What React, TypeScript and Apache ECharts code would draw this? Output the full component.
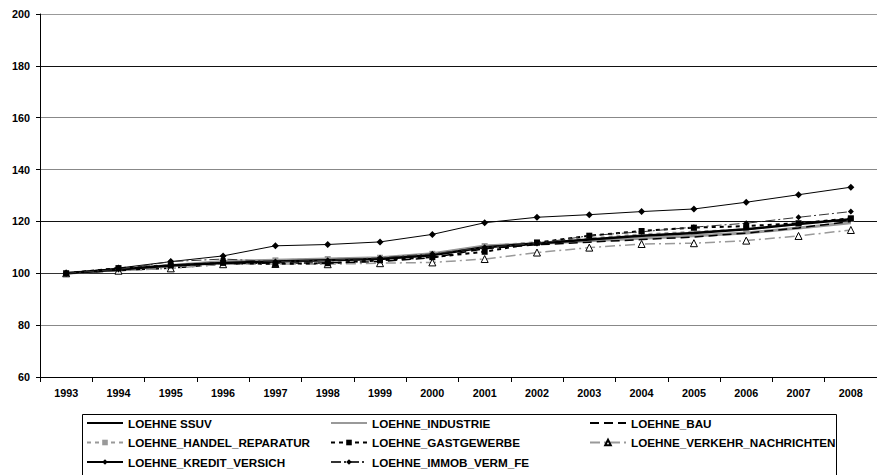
import React, { useEffect, useRef } from "react";
import * as echarts from "echarts";

const years = ["1993","1994","1995","1996","1997","1998","1999","2000","2001","2002","2003","2004","2005","2006","2007","2008"];

const ssuv = [100, 101.5, 103, 104, 104.5, 105, 105.5, 107, 110, 111.5, 113, 114.5, 115.5, 117, 119, 120.8];
const industrie = [100, 101.5, 103, 104.5, 105, 105.5, 106, 107.5, 110.5, 111.5, 112.5, 113.5, 114.5, 115.5, 117.5, 119.5];
const bau = [100, 101, 102, 103.5, 104, 104, 104.5, 106, 109.5, 111, 112, 113, 114, 115.5, 117.5, 120];
const handel = [100, 101.5, 102.5, 104.5, 105, 105.5, 106, 107.5, 110.5, 112, 113.5, 115, 116, 117, 119, 121];
const gastgewerbe = [100, 102, 103, 104, 103.6, 103.9, 105, 106.2, 108.3, 111.8, 114.5, 116.3, 117.6, 118.2, 119.3, 121.2];
const verkehr = [100, 101, 101.9, 103.5, 103.6, 103.5, 103.9, 104.2, 105.5, 108, 109.9, 111.3, 111.6, 112.6, 114.4, 116.7];
const kredit = [100, 102, 104.5, 106.7, 110.6, 111.1, 112.1, 115.0, 119.5, 121.6, 122.6, 123.8, 124.8, 127.4, 130.3, 133.2];
const immob = [100, 101.5, 104.5, 105.5, 104.5, 105, 106, 107.5, 110, 111.5, 114.5, 116, 117.8, 119.3, 121.6, 123.8];

const yMin = 60;
const yMax = 200;
const yInterval = 20;

const FONT = "'Liberation Sans', Arial, sans-serif";

export default function App() {
  const ref = useRef<HTMLDivElement>(null);
  useEffect(() => {
    if (!ref.current) return;
    const chart = echarts.init(ref.current, undefined, { renderer: "svg" });
    const legendText = { fontFamily: FONT, fontWeight: "bold" as const, fontSize: 11.7, color: "#000" };
    const legendCommon = {
      orient: "vertical" as const,
      top: 417,
      itemWidth: 36,
      itemHeight: 7,
      itemGap: 7.5,
      padding: 0,
      selectedMode: false,
      textStyle: legendText,
    };
    const hide = { opacity: 0 };
    chart.setOption({
      animation: false,
      backgroundColor: "#fff",
      grid: { left: 40, right: -13, top: 14, bottom: 98, containLabel: false },
      xAxis: {
        type: "category",
        data: years,
        boundaryGap: true,
        axisLine: { lineStyle: { color: "#000", width: 1 } },
        axisTick: { show: true, length: 5, lineStyle: { color: "#000" } },
        axisLabel: { margin: 10, fontFamily: FONT, fontWeight: "bold", fontSize: 10.8, color: "#000" },
        splitLine: { show: false },
      },
      yAxis: {
        type: "value",
        min: yMin,
        max: yMax,
        interval: yInterval,
        axisLine: { show: true, lineStyle: { color: "#000", width: 1 } },
        axisTick: { show: true, length: 4, lineStyle: { color: "#000" } },
        axisLabel: { margin: 10, fontFamily: FONT, fontWeight: "bold", fontSize: 10.8, color: "#000" },
        splitLine: {
          show: true,
          lineStyle: { color: ["#000", "#888", "#333", "#111", "#888", "#888", "#111", "#999"], width: 1 },
        },
      },
      legend: [
        {
          ...legendCommon, left: 86,
          data: [{ name: "LOEHNE SSUV", itemStyle: hide }, "LOEHNE_HANDEL_REPARATUR", "LOEHNE_KREDIT_VERSICH"],
        },
        {
          ...legendCommon, left: 330,
          data: [{ name: "LOEHNE_INDUSTRIE", itemStyle: hide }, "LOEHNE_GASTGEWERBE", "LOEHNE_IMMOB_VERM_FE"],
        },
        {
          ...legendCommon, left: 589,
          data: [{ name: "LOEHNE_BAU", itemStyle: hide }, "LOEHNE_VERKEHR_NACHRICHTEN"],
        },
      ],
      graphic: [
        {
          type: "rect",
          shape: { x: 82.5, y: 414.5, width: 754, height: 80 },
          style: { fill: "none", stroke: "#000", lineWidth: 1 },
          silent: true,
        },
      ],
      series: [
        {
          name: "LOEHNE SSUV", type: "line", data: ssuv, symbol: "none",
          lineStyle: { color: "#000", width: 2.5 }, itemStyle: { color: "#000" }, z: 5,
        },
        {
          name: "LOEHNE_INDUSTRIE", type: "line", data: industrie, symbol: "none",
          lineStyle: { color: "#999", width: 3 }, itemStyle: { color: "#999" }, z: 3,
        },
        {
          name: "LOEHNE_BAU", type: "line", data: bau, symbol: "none",
          lineStyle: { color: "#000", width: 1.5, type: [9, 5] }, itemStyle: { color: "#000" }, z: 4,
        },
        {
          name: "LOEHNE_HANDEL_REPARATUR", type: "line", data: handel, symbol: "rect", symbolSize: 6,
          lineStyle: { color: "#999", width: 2, type: [4, 4] }, itemStyle: { color: "#999" }, z: 3,
        },
        {
          name: "LOEHNE_GASTGEWERBE", type: "line", data: gastgewerbe, symbol: "rect", symbolSize: 6,
          lineStyle: { color: "#000", width: 2, type: [4, 4] }, itemStyle: { color: "#000" }, z: 5,
        },
        {
          name: "LOEHNE_VERKEHR_NACHRICHTEN", type: "line", data: verkehr, symbol: "triangle", symbolSize: 7,
          lineStyle: { color: "#999", width: 1.5, type: [10, 4, 2, 4] },
          itemStyle: { color: "#fff", borderColor: "#000", borderWidth: 1 }, z: 4,
        },
        {
          name: "LOEHNE_KREDIT_VERSICH", type: "line", data: kredit, symbol: "diamond", symbolSize: 7,
          lineStyle: { color: "#000", width: 1 }, itemStyle: { color: "#000" }, z: 6,
        },
        {
          name: "LOEHNE_IMMOB_VERM_FE", type: "line", data: immob, symbol: "diamond", symbolSize: 6,
          lineStyle: { color: "#333", width: 1, type: [10, 3, 2, 3] }, itemStyle: { color: "#000" }, z: 6,
        },
      ],
    });
    return () => chart.dispose();
  }, []);
  return (
    <div
      ref={ref}
      style={{ position: "absolute", left: 0, top: 0, width: 877, height: 475, background: "#fff" }}
    />
  );
}
